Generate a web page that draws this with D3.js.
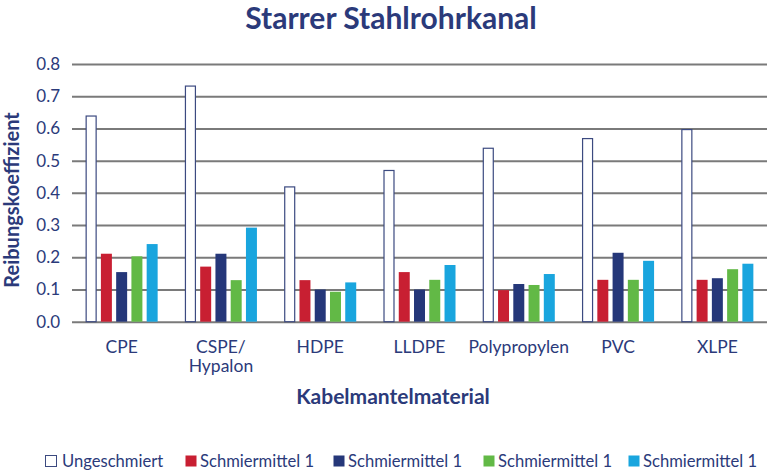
<!DOCTYPE html>
<html><head><meta charset="utf-8">
<script src="https://cdn.jsdelivr.net/npm/d3@7"></script>
<style>body{margin:0;background:#fff}svg{display:block}text{font-family:Lato,"Open Sans",sans-serif}</style>
</head><body>
<svg id="chart" width="767" height="472"></svg>
<script>
const categories = ["CPE","CSPE/\nHypalon","HDPE","LLDPE","Polypropylen","PVC","XLPE"];
const seriesNames = ["Ungeschmiert","Schmiermittel 1","Schmiermittel 1","Schmiermittel 1","Schmiermittel 1"];
const seriesColors = ["#ffffff","#c81f32","#253779","#62b946","#19a5de"];
const ungeschmiert = [0.64,0.733,0.42,0.471,0.54,0.57,0.598];
const schmier1a = [0.211,0.171,0.129,0.154,0.098,0.13,0.13];
const schmier1b = [0.154,0.211,0.1,0.1,0.117,0.214,0.135];
const schmier1c = [0.203,0.129,0.093,0.13,0.114,0.13,0.163];
const schmier1d = [0.241,0.292,0.122,0.176,0.148,0.189,0.18];
const yTicks = [0,0.1,0.2,0.3,0.4,0.5,0.6,0.7,0.8];
const series = [ungeschmiert,schmier1a,schmier1b,schmier1c,schmier1d];

const navy = "#2b3a7a";
const svg = d3.select("#chart");
const mLeft = 72, mRight = 767, mTop = 64, mBottom = 321.7;

const x0 = d3.scaleBand().domain(categories).range([mLeft, mRight]).padding(0);
const x1 = d3.scaleBand().domain(d3.range(5)).range([13.65, 85.65]).paddingInner(0.28).paddingOuter(0);
const y = d3.scaleLinear().domain([0,0.8]).range([mBottom, mTop]);

// title
svg.append("text").attr("x", 391).attr("y", 28.5).attr("text-anchor","middle")
  .attr("font-size", 30).attr("font-weight","bold").attr("fill", navy).text("Starrer Stahlrohrkanal");

// gridlines
const yAxis = d3.axisLeft(y).tickValues(yTicks).tickFormat(d3.format(".1f")).tickSize(-(mRight-mLeft)).tickPadding(12);
const ga = svg.append("g").attr("transform", `translate(${mLeft},0)`).call(yAxis);
ga.select(".domain").remove();
ga.selectAll(".tick line").attr("stroke","#7a7a7a").attr("stroke-width",2);
ga.selectAll(".tick text").attr("fill", navy).attr("font-size",17).attr("font-family","Lato, sans-serif").attr("x",-12);

// bars
const groups = svg.append("g").selectAll("g").data(categories).join("g")
  .attr("transform", d => `translate(${x0(d)},0)`);
groups.selectAll("rect").data((d,i) => series.map((s,k) => ({k, v: s[i]}))).join("rect")
  .attr("x", d => x1(d.k) + (d.k===0 ? 0.5 : 0))
  .attr("width", d => x1.bandwidth() - (d.k===0 ? 1 : 0))
  .attr("y", d => y(d.v) + (d.k===0 ? 0.5 : 0))
  .attr("height", d => mBottom - y(d.v) - (d.k===0 ? 0.5 : 0))
  .attr("fill", d => seriesColors[d.k])
  .attr("stroke", d => d.k===0 ? "#3c4a80" : "none")
  .attr("stroke-width", 1.2);

// x labels (one text per line)
const xlData = [];
categories.forEach(c => c.split("\n").forEach((l, i) => xlData.push({c, l, i})));
svg.append("g").selectAll("text").data(xlData).join("text")
  .attr("x", d => x0(d.c) + 49.65).attr("y", d => 352.5 + d.i * 19).attr("text-anchor","middle")
  .attr("font-size",17.5).attr("fill", navy).text(d => d.l);

// axis titles
svg.append("text").attr("x", 393).attr("y", 404).attr("text-anchor","middle")
  .attr("font-size",21).attr("font-weight","bold").attr("fill", navy).text("Kabelmantelmaterial");
svg.append("text").attr("transform","translate(18.5,200) rotate(-90)").attr("text-anchor","middle")
  .attr("font-size",20).attr("font-weight","bold").attr("fill", navy).text("Reibungskoeffizient");

// legend
const legX = [45, 185, 333, 483, 628];
const lg = svg.append("g").selectAll("g").data(seriesNames).join("g")
  .attr("transform", (d,i) => `translate(${legX[i]},455)`);
lg.append("rect").attr("width",11).attr("height",11).attr("x",0.5).attr("y",0.5)
  .attr("fill",(d,i)=>seriesColors[i]).attr("stroke",(d,i)=> i===0 ? "#3c4a80" : "none");
lg.append("text").attr("x",(d,i)=> i===0 ? 17 : 15).attr("y",11.5).attr("font-size",16.6)
  .attr("fill", navy).text(d => d);
</script>
</body></html>
